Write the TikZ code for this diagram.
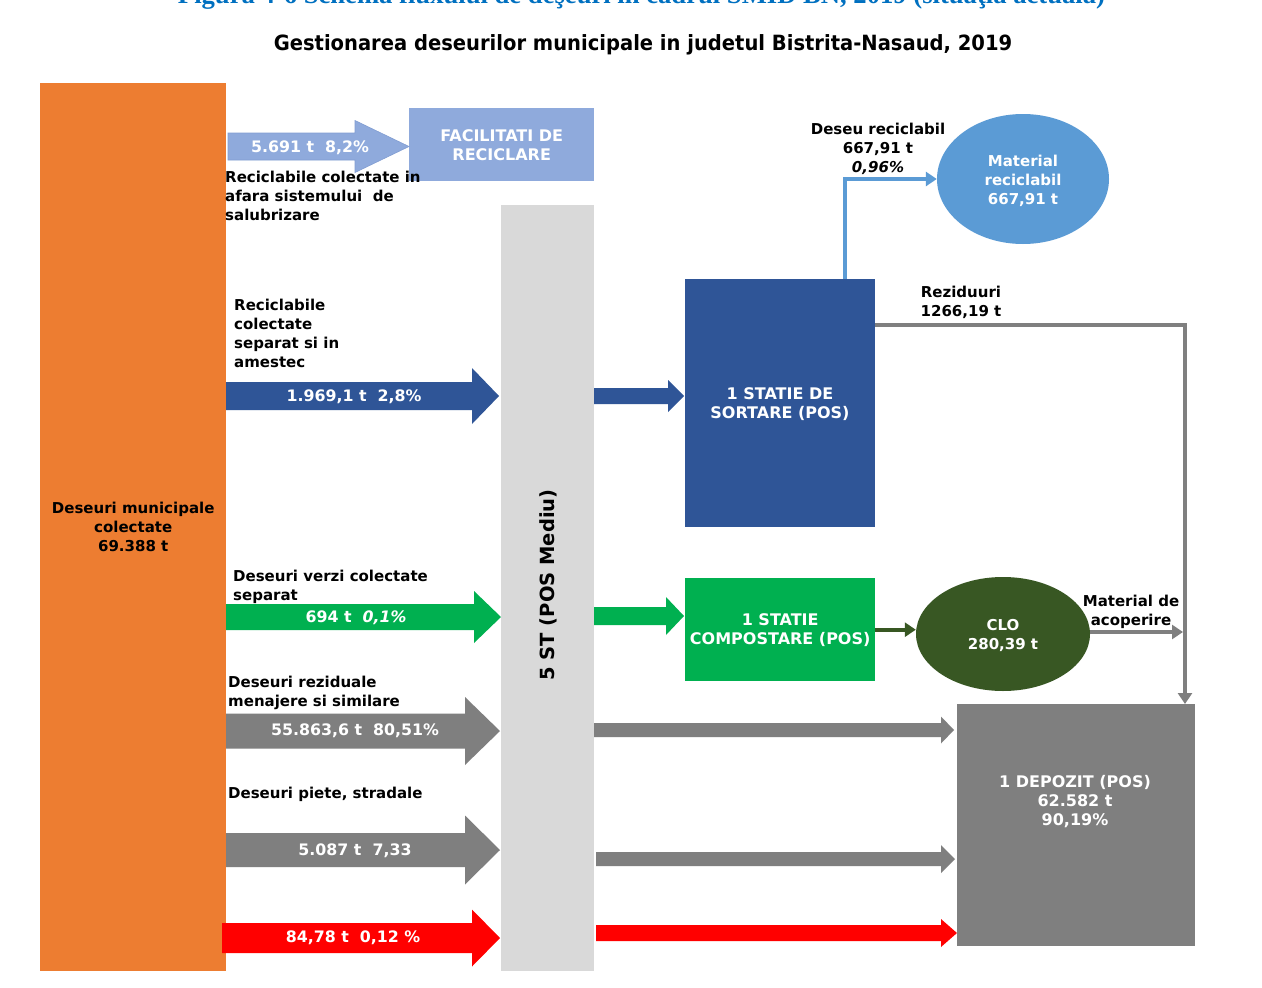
\documentclass[tikz,border=0pt]{standalone}
\usepackage{fontspec}
\setmainfont{DejaVu Sans}
\newfontfamily\capfont{Liberation Serif}
\usetikzlibrary{shapes.geometric,arrows.meta}
\definecolor{orng}{HTML}{ED7D31}
\definecolor{colgray}{HTML}{D9D9D9}
\definecolor{lblue}{HTML}{8FAADC}
\definecolor{dblue}{HTML}{2F5597}
\definecolor{mblue}{HTML}{5B9BD5}
\definecolor{grn}{HTML}{00B050}
\definecolor{dgrn}{HTML}{385723}
\definecolor{gry}{HTML}{7F7F7F}
\definecolor{capblue}{HTML}{0070C0}
\newcommand\fatarrow[7]{%
  \fill[#1] (#2,{#5-#6}) -- (#3,{#5-#6}) -- (#3,{#5-#7}) -- (#4,#5) -- (#3,{#5+#7}) -- (#3,{#5+#6}) -- (#2,{#5+#6}) -- cycle;}
\tikzset{
  box/.style={rectangle, inner sep=0pt, anchor=north west},
  wtxt/.style={text=white, font=\fontsize{15}{19}\selectfont\bfseries, align=center},
  wcap/.style={text=white, font=\fontsize{16}{19}\selectfont\bfseries, align=center},
  btxt/.style={text=black, font=\fontsize{15}{19}\selectfont\bfseries},
  atxt/.style={text=white, font=\fontsize{15.8}{19}\selectfont\bfseries},
  conn/.style={line width=4pt},
  tip/.style={-{Triangle[length=11pt,width=14pt]}}
}
\begin{document}
\begin{tikzpicture}[x=1pt,y=-1pt]
\useasboundingbox (0,0) rectangle (1262,988);
\clip (0,0) rectangle (1262,988);
\fill[white] (0,0) rectangle (1262,988);
% caption (cut off at top, as in the source page)
\node[anchor=base, text=capblue, inner sep=0pt] (cap) at (641.5,3)
  {\resizebox{927pt}{!}{\capfont\bfseries Figura 4-6 Schema fluxului de deşeuri în cadrul SMID BN, 2019 (situaţia actuală)}};
% title
\node[inner sep=0pt, font=\fontsize{21}{24}\selectfont\bfseries] (title) at (643,45)
  {\scalebox{0.93}[1]{Gestionarea deseurilor municipale in judetul Bistrita-Nasaud, 2019}};
% main boxes
\node[box, fill=orng, minimum width=186pt, minimum height=888pt] (mun) at (40,83) {};
\node[btxt, align=center] at (mun.center) {Deseuri municipale\\colectate\\69.388 t};
\node[box, fill=colgray, minimum width=93pt, minimum height=766pt] (st) at (501,205) {};
\node[rotate=90, font=\fontsize{19.5}{22}\selectfont\bfseries] (sttxt) at (548,585) {5 ST (POS Mediu)};
\node[box, fill=lblue, minimum width=185pt, minimum height=73pt] (fac) at (409,108) {};
\node[wcap] at (fac.center) {FACILITATI DE\\RECICLARE};
\node[box, fill=dblue, minimum width=190pt, minimum height=248pt] (sort) at (685,279) {};
\node[wcap] at (780,404) {1 STATIE DE\\SORTARE (POS)};
\node[box, fill=grn, minimum width=190pt, minimum height=103pt] (comp) at (685,578) {};
\node[wcap] at (comp.center) {1 STATIE\\COMPOSTARE (POS)};
\node[box, fill=gry, minimum width=238pt, minimum height=242pt] (dep) at (957,704) {};
\node[wcap] at (1075,802) {1 DEPOZIT (POS)\\62.582 t\\90,19\%};
\node[ellipse, fill=mblue, minimum width=172pt, minimum height=130pt, inner sep=0pt] (mat) at (1023,179) {};
\node[wtxt] at (1023,181) {Material\\reciclabil\\667,91 t};
\node[ellipse, fill=dgrn, minimum width=174pt, minimum height=114pt, inner sep=0pt] (clo) at (1003,634) {};
\node[wtxt] at (1003,635) {CLO\\280,39 t};
% fat arrows
\fatarrow{lblue}{228}{355}{409}{146.5}{13.5}{26}
\draw[lblue!85!dblue, line width=0.6pt] (228,133) -- (355,133) -- (355,120.5) -- (409,146.5) -- (355,172.5) -- (355,160) -- (228,160) -- cycle;
\node[atxt] (a1) at (310,148) {5.691 t\ \ 8,2\%};
\fatarrow{dblue}{226}{472}{499}{396}{14}{28}
\node[atxt] (a2) at (354,397) {1.969,1 t\ \ 2,8\%};
\fatarrow{dblue}{594}{668}{684}{396}{8}{16}
\fatarrow{grn}{226}{474}{501}{617}{13}{26}
\node[atxt] (a3) at (356,618) {694 t\ \ \textit{0,1\%}};
\fatarrow{grn}{594}{666}{684}{616}{9}{19}
\fatarrow{gry}{226}{465}{500}{731}{17.5}{34}
\node[atxt] (a4) at (355,731) {55.863,6 t\ \ 80,51\%};
\fatarrow{gry}{226}{465}{500}{850}{17}{34.5}
\node[atxt] (a5) at (355,851) {5.087 t\ \ 7,33};
\fatarrow{red}{222}{472}{500}{938}{15}{28.5}
\node[atxt] (a6) at (353,938) {84,78 t\ \ 0,12 \%};
\fatarrow{gry}{594}{941}{954}{730}{7}{13.5}
\fatarrow{gry}{596}{941}{955}{859}{7}{14}
\fatarrow{red}{596}{941}{957}{933}{8}{14}
% labels
\node[btxt, anchor=north west, align=left, inner sep=0pt] (l1) at (225,170.5) {Reciclabile colectate in\\afara sistemului\ \ de\\salubrizare};
\node[btxt, anchor=north west, align=left, inner sep=0pt] (l2) at (234,299) {Reciclabile\\colectate\\separat si in\\amestec};
\node[btxt, anchor=north west, align=left, inner sep=0pt] (l3) at (233,570) {Deseuri verzi colectate\\separat};
\node[btxt, anchor=north west, align=left, inner sep=0pt] (l4) at (228,676) {Deseuri reziduale\\menajere si similare};
\node[btxt, anchor=north west, align=left, inner sep=0pt] (l5) at (228,787) {Deseuri piete, stradale};
\node[btxt, align=center, inner sep=0pt] (l6) at (878,148.5) {Deseu reciclabil\\667,91 t\\\textit{0,96\%}};
\node[btxt, align=center, inner sep=0pt] (l7) at (961,302.5) {Reziduuri\\1266,19 t};
\node[btxt, align=center, inner sep=0pt] (l8) at (1131,612) {Material de\\acoperire};
% connectors
\coordinate (bu) at (845,279);
\draw[conn, mblue, tip] (bu) |- (mat.west);
\coordinate (rz) at (875,325);
\coordinate (dz) at (1185,704);
\draw[conn, gry, tip] (rz) -| (dz);
\draw[conn, dgrn, tip] (comp.east) -- (clo.west |- comp.east);
\coordinate (acop) at (1183,632);
\draw[conn, gry, tip] (clo.east |- acop) -- (acop);
\end{tikzpicture}
\end{document}
